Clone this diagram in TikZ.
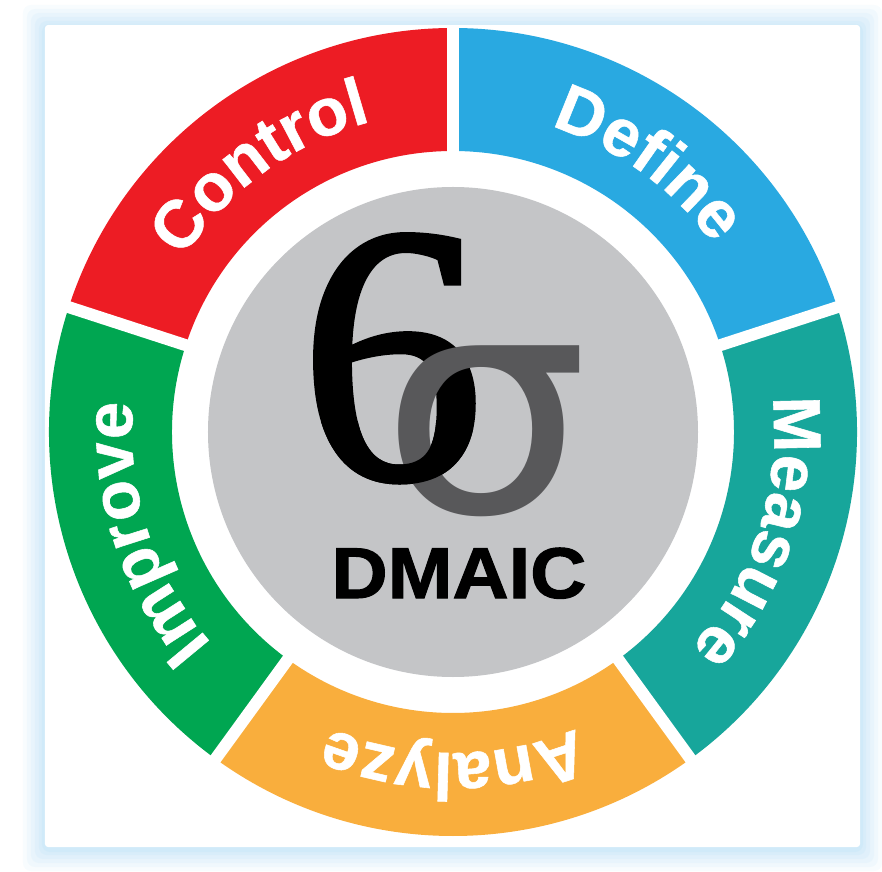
\documentclass[tikz,border=0pt]{standalone}
\usepackage{fontspec}
\setmainfont{Liberation Serif}
\setsansfont{Liberation Sans}
\newfontfamily\sixfont{Liberation Serif}[FakeBold=1.6]
\newfontfamily\sigmafont{DejaVu Sans}
\newfontfamily\heavysans{Liberation Sans}[BoldFont={Liberation Sans Bold}, BoldFeatures={FakeBold=1.4}]
\newfontfamily\ringsans{Liberation Sans}[BoldFont={Liberation Sans Bold}, BoldFeatures={FakeBold=0.8}]
\usetikzlibrary{decorations.text}
\definecolor{cred}{HTML}{ED1C24}
\definecolor{cblue}{HTML}{29A9E1}
\definecolor{cteal}{HTML}{17A69B}
\definecolor{corange}{HTML}{F9AE3D}
\definecolor{cgreen}{HTML}{00A651}
\definecolor{cgray}{HTML}{C4C5C7}
\definecolor{sigmagray}{HTML}{58585A}
\definecolor{glowblue}{HTML}{BEE3F8}
\newcommand\ringfont{\ringsans\bfseries\fontsize{67bp}{67bp}\selectfont}
\tikzset{
  seglabel/.style={decorate, decoration={text along path, text={|\ringfont|#1}, text align=center, text color=white}},
  gapline/.style={white, line width=12bp},
  sixstyle/.style={font=\sixfont\fontsize{367bp}{367bp}\selectfont, inner sep=0, anchor=base}
}
\begin{document}
\begin{tikzpicture}[x=1bp,y=1bp]
\useasboundingbox (-453,-440) rectangle (429,432);
\fill[white] (-453,-440) rectangle (429,432);
% frame glow
\foreach \d/\o in {22/0.10,18/0.12,14/0.15,10/0.18,6/0.22,3/0.28}
  \fill[glowblue, opacity=\o, rounded corners=8bp] (-408-\d,-417-\d) rectangle (407+\d,405+\d);
\fill[white, rounded corners=3bp] (-408,-415) rectangle (407,407);
% ring segments
\foreach \a/\b/\c in {90/18/cblue, 18/-54/cteal, -54/-126/corange, -126/-198/cgreen, 162/90/cred}
  \fill[\c] (\a:404) arc[start angle=\a, end angle=\b, radius=404] -- (\b:281) arc[start angle=\b, end angle=\a, radius=281] -- cycle;
\foreach \g in {90,18,-54,-126,162}
  \draw[gapline] (\g:270) -- (\g:406);
% labels
\path[seglabel=Define] (90:321) arc[start angle=90, end angle=18, radius=321];
\path[seglabel=Measure] (18:321) arc[start angle=18, end angle=-54, radius=321];
\path[seglabel=Analyze] (-54:321) arc[start angle=-54, end angle=-126, radius=321];
\path[seglabel=Improve] (234:321) arc[start angle=234, end angle=162, radius=321];
\path[seglabel=Control] (162:321) arc[start angle=162, end angle=90, radius=321];
% centre
\fill[cgray] (0,0) circle[radius=245];
\node[sixstyle] (six) at (-61,-46) {6};
\node[font=\sigmafont\fontsize{305bp}{305bp}\selectfont, xscale=1.08, inner sep=0, anchor=base, text=sigmagray] (sigma) at (32,-80) {σ};
\begin{scope}
  \clip (-200,-120) rectangle (20,10);
  \node[sixstyle] (sixfront) at (-61,-46) {6};
\end{scope}
\node[font=\heavysans\bfseries\fontsize{72bp}{72bp}\selectfont, xscale=1.08, inner sep=0, anchor=base] (dmaic) at (6,-166) {DMAIC};
\end{tikzpicture}
\end{document}
